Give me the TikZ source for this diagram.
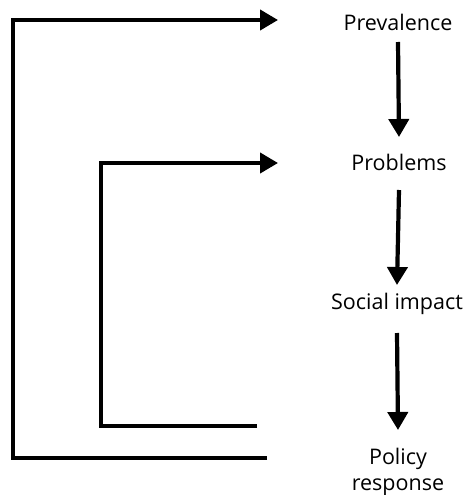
\documentclass[tikz,border=0pt]{standalone}
\usepackage{fontspec}
\setmainfont{Open Sans}
\usetikzlibrary{arrows.meta}

\begin{document}
\begin{tikzpicture}[x=1pt, y=-1pt,
    label/.style={font=\fontsize{21.5}{26}\selectfont, align=center, inner sep=0pt},
    flow/.style={line width=4.2pt, -{Triangle[width=20pt,length=18pt]}},
    loop/.style={line width=4.2pt, line join=miter}]
    \useasboundingbox (0,0) rectangle (466,495);

    \node[label] (prev) at (398, 22) {Prevalence};
    \node[label] (prob) at (399, 162) {Problems};
    \node[label] (soc) at (397, 304) {Social impact};
    \node[label] (pol) at (398, 472) {Policy\\response};

    \draw[flow] ([yshift=-20pt]prev.center) -- ([yshift=25pt]prob.center);
    \draw[flow] ([yshift=-28pt]prob.center) -- ([yshift=19pt]soc.center);
    \draw[flow] ([yshift=-29pt]soc.center) -- ([yshift=42pt]pol.center);

    \coordinate (outerstart) at (267, 458);
    \coordinate (outertip) at (278, 20);
    \coordinate (innerstart) at (257, 426);
    \coordinate (innertip) at (278, 163);

    \draw[loop, flow] (outerstart) -| (13, 20) -- (outertip);
    \draw[loop, flow] (innerstart) -| (101, 163) -- (innertip);
\end{tikzpicture}
\end{document}
